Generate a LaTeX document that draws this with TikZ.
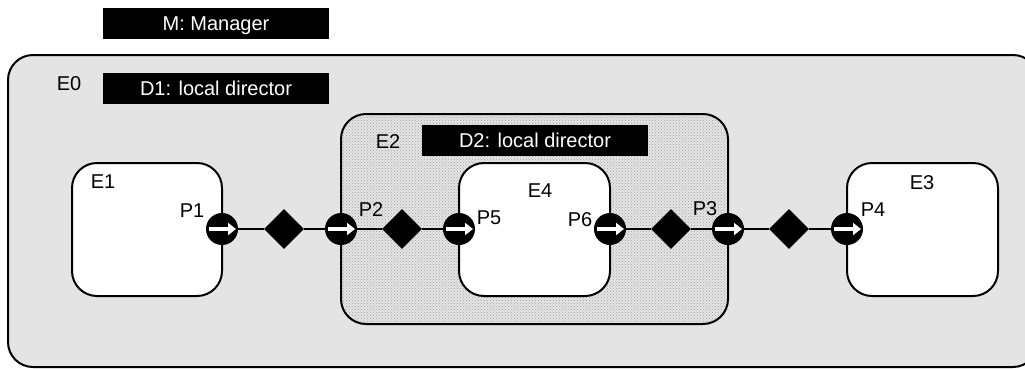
\documentclass[tikz,border=0pt]{standalone}
\usepackage{fontspec}
\setmainfont{Liberation Sans}
\usetikzlibrary{shapes.geometric,arrows.meta,patterns}
\definecolor{envgray}{gray}{0.894}
\definecolor{dotbase}{gray}{0.90}

\begin{document}
\begin{tikzpicture}[x=1pt,y=-1pt,
    font=\fontsize{20}{23}\selectfont,
    actor/.style={rectangle, draw, line width=2pt, rounded corners=25pt,
      fill=white, inner sep=0pt},
    director/.style={rectangle, fill=black, text=white, minimum width=226pt,
      minimum height=31pt, text height=14.3pt, text depth=0pt, inner sep=0pt},
    portnode/.style={circle, fill=black, minimum size=32pt, inner sep=0pt,
      path picture={\draw[white, line width=4pt, -{Triangle[length=8pt,width=12pt]}]
        ([xshift=-13pt]path picture bounding box.center) --
        ([xshift=14pt]path picture bounding box.center);}},
    relation/.style={diamond, fill=black, minimum size=40pt, inner sep=0pt},
    link/.style={line width=2pt}]
  \useasboundingbox (0,0) rectangle (1025,368);

  % containers
  \node [actor, fill=envgray, minimum width=1030pt, minimum height=312pt] (e0) at (523,211) {};
  \node [actor, minimum width=150pt, minimum height=133pt] (e1) at (147,229.5) {};
  \node [actor, preaction={fill=dotbase}, pattern=crosshatch dots, pattern color=gray!75,
    minimum width=387pt, minimum height=210pt] (e2) at (534.5,219) {};
  \node [actor, minimum width=151pt, minimum height=133pt] (e3) at (922.5,229.5) {};
  \node [actor, minimum width=151pt, minimum height=133pt] (e4) at (534.5,229.5) {};

  % directors
  \node [director] (m) at (216,23.5) {M: Manager};
  \node [director] (d1) at (216,88) {D1: local director};
  \node [director] (d2) at (535,140.5) {D2: local director};

  % ports and relations
  \node [portnode] (p1) at (222,229) {};
  \node [portnode] (p2) at (341,229) {};
  \node [portnode] (p5) at (459,229) {};
  \node [portnode] (p6) at (610,229) {};
  \node [portnode] (p3) at (728,229) {};
  \node [portnode] (p4) at (847,229) {};
  \node [relation] (r1) at (284,229) {};
  \node [relation] (r2) at (402,229) {};
  \node [relation] (r3) at (671,229) {};
  \node [relation] (r4) at (789,229) {};

  \draw [link] (p1) -- (r1) -- (p2) -- (r2) -- (p5);
  \draw [link] (p6) -- (r3) -- (p3) -- (r4) -- (p4);

  % labels
  \node (le0) at (69,84) {E0};
  \node (le1) at (103,182) {E1};
  \node (le2) at (388,142) {E2};
  \node (le3) at (922,183) {E3};
  \node (le4) at (540,191) {E4};
  \node (lp1) at (192,211) {P1};
  \node (lp2) at (371,210) {P2};
  \node (lp3) at (705,209) {P3};
  \node (lp4) at (873,210) {P4};
  \node (lp5) at (489,218) {P5};
  \node (lp6) at (580,220) {P6};
\end{tikzpicture}
\end{document}
